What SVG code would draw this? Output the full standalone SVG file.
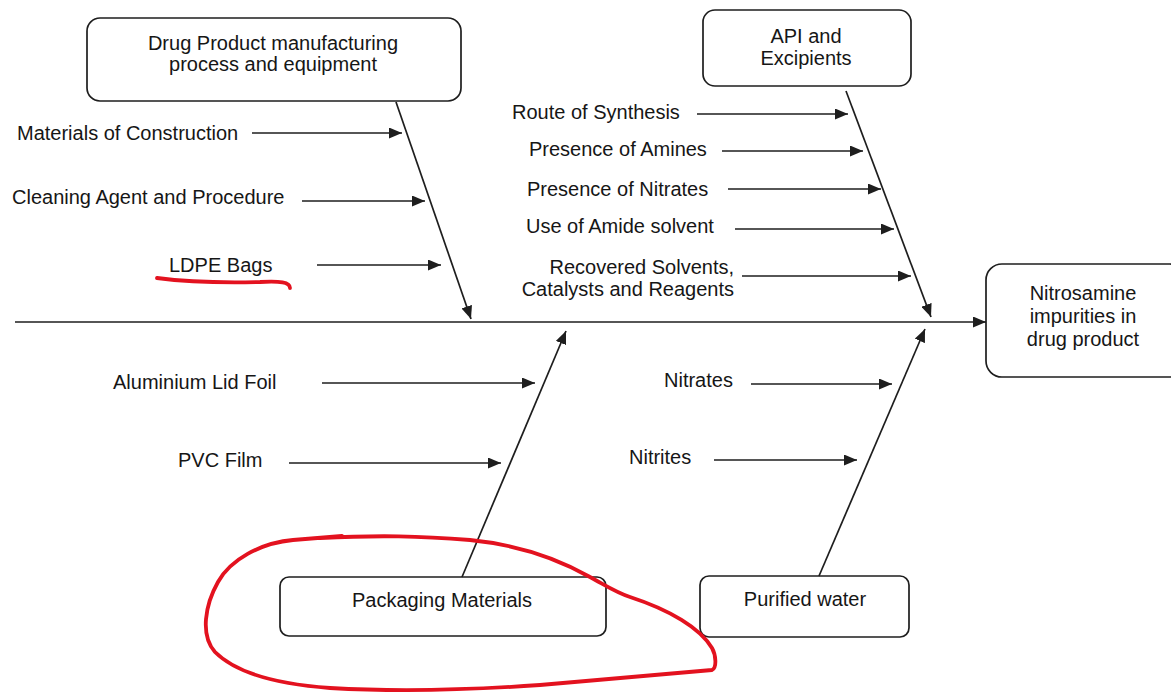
<svg xmlns="http://www.w3.org/2000/svg" width="1171" height="692" viewBox="0 0 1171 692">
  <style>
    .box { fill: #ffffff; stroke: #1e1e1e; stroke-width: 1.7; }
    .lbl { font-family: "Liberation Sans", Arial, sans-serif; font-size: 20px; fill: #161616; }
    .mid { text-anchor: middle; }
    .wire { stroke: #1e1e1e; stroke-width: 1.7; fill: none; marker-end: url(#head); }
    .ink { stroke: #e3121f; stroke-width: 3.8; fill: none; stroke-linecap: round; stroke-linejoin: round; }
  </style>
  <defs>
    <marker id="head" viewBox="0 0 13 11" refX="13" refY="5.5" markerWidth="13" markerHeight="11" markerUnits="userSpaceOnUse" orient="auto">
      <path d="M0,0 L13,5.5 L0,11 z" fill="#1e1e1e"/>
    </marker>
  </defs>
  <rect width="1171" height="692" fill="#ffffff"/>

  <!-- category and effect boxes -->
  <g id="drug-product">
    <rect class="box" x="87" y="18" width="374" height="83" rx="13"/>
    <text class="lbl mid" x="273" y="50">Drug Product manufacturing</text>
    <text class="lbl mid" x="273" y="71">process and equipment</text>
  </g>
  <g id="api-excipients">
    <rect class="box" x="703" y="10" width="208" height="76" rx="12"/>
    <text class="lbl mid" x="806" y="43">API and</text>
    <text class="lbl mid" x="806" y="65">Excipients</text>
  </g>
  <g id="nitrosamine">
    <rect class="box" x="986" y="264" width="200" height="113" rx="16"/>
    <text class="lbl mid" x="1083" y="300">Nitrosamine</text>
    <text class="lbl mid" x="1083" y="323">impurities in</text>
    <text class="lbl mid" x="1083" y="346">drug product</text>
  </g>
  <g id="packaging">
    <rect class="box" x="280" y="577" width="326" height="59" rx="9"/>
    <text class="lbl mid" x="442" y="607">Packaging Materials</text>
  </g>
  <g id="purified-water">
    <rect class="box" x="700" y="576" width="209" height="61" rx="9"/>
    <text class="lbl mid" x="805" y="606">Purified water</text>
  </g>

  <!-- cause labels -->
  <g id="causes">
    <text class="lbl" x="17" y="140">Materials of Construction</text>
    <text class="lbl" x="12" y="204">Cleaning Agent and Procedure</text>
    <text class="lbl" x="169" y="272">LDPE Bags</text>
    <text class="lbl" x="512" y="119">Route of Synthesis</text>
    <text class="lbl" x="529" y="156">Presence of Amines</text>
    <text class="lbl" x="527" y="196">Presence of Nitrates</text>
    <text class="lbl" x="526" y="233">Use of Amide solvent</text>
    <text class="lbl" x="734" y="274" text-anchor="end">Recovered Solvents,</text>
    <text class="lbl" x="734" y="296" text-anchor="end">Catalysts and Reagents</text>
    <text class="lbl" x="113" y="389">Aluminium Lid Foil</text>
    <text class="lbl" x="178" y="467">PVC Film</text>
    <text class="lbl" x="664" y="387">Nitrates</text>
    <text class="lbl" x="629" y="464">Nitrites</text>
  </g>

  <!-- spine, bones and cause arrows -->
  <g id="connectors">
    <line class="wire" x1="15" y1="322" x2="986" y2="322"/>
    <line class="wire" x1="396" y1="102" x2="471" y2="319"/>
    <line class="wire" x1="846" y1="91" x2="931" y2="317"/>
    <line class="wire" x1="462" y1="577" x2="566" y2="331"/>
    <line class="wire" x1="819" y1="576" x2="925" y2="329"/>

    <line class="wire" x1="252" y1="133" x2="402" y2="133"/>
    <line class="wire" x1="302" y1="201" x2="425" y2="201"/>
    <line class="wire" x1="317" y1="265" x2="441" y2="265"/>

    <line class="wire" x1="697" y1="114" x2="848" y2="114"/>
    <line class="wire" x1="722" y1="151" x2="863" y2="151"/>
    <line class="wire" x1="728" y1="189" x2="881" y2="189"/>
    <line class="wire" x1="735" y1="229" x2="894" y2="229"/>
    <line class="wire" x1="742" y1="276" x2="911" y2="276"/>

    <line class="wire" x1="322" y1="383" x2="535" y2="383"/>
    <line class="wire" x1="289" y1="463" x2="501" y2="463"/>
    <line class="wire" x1="751" y1="384" x2="892" y2="384"/>
    <line class="wire" x1="714" y1="460" x2="857" y2="460"/>
  </g>

  <!-- hand-drawn red markup -->
  <g id="markup">
    <path class="ink" d="M157 278 C180 281 220 283 260 282 C280 281 290 282 290 288"/>
    <path class="ink" d="M342 536 L293 540 C260 543 230 560 218 582 C205 605 200 635 215 652 C235 672 275 684 330 688 C400 692 470 690 540 685 L712 670 C717 668 716 655 712 648 C700 628 670 610 630 597 C615 592 605 585 590 577 C560 560 520 545 470 540 C420 536 380 535 320 538"/>
  </g>
</svg>
